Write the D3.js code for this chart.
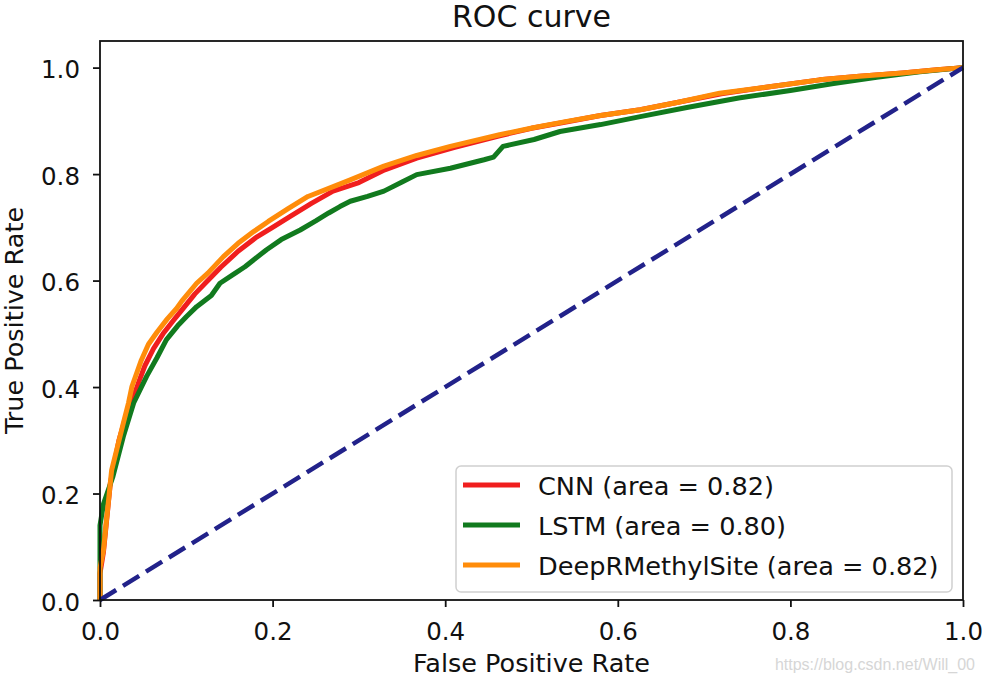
<!DOCTYPE html>
<html>
<head>
<meta charset="utf-8">
<script src="https://cdnjs.cloudflare.com/ajax/libs/d3/7.8.5/d3.min.js"></script>
<style>
  body { margin: 0; background: #fff; }
  text { font-family: "DejaVu Sans", sans-serif; fill: #111; }
</style>
</head>
<body>
<script>
var width = 982;
var height = 679;

// data
var cnnFpr = [0, 0, 0.004, 0.012, 0.022, 0.03, 0.038, 0.045, 0.052, 0.062, 0.073, 0.085, 0.095, 0.11, 0.125, 0.14, 0.16, 0.18, 0.2, 0.22, 0.245, 0.27, 0.3, 0.33, 0.367, 0.41, 0.463, 0.5, 0.54, 0.58, 0.626, 0.67, 0.72, 0.78, 0.834, 0.88, 0.93, 0.97, 1.0];
var cnnTpr = [0, 0.05, 0.09, 0.22, 0.3, 0.345, 0.378, 0.41, 0.44, 0.472, 0.5, 0.525, 0.545, 0.575, 0.6, 0.625, 0.655, 0.68, 0.7, 0.72, 0.745, 0.768, 0.784, 0.808, 0.83, 0.85, 0.872, 0.886, 0.898, 0.91, 0.921, 0.935, 0.951, 0.965, 0.977, 0.984, 0.99, 0.996, 1.0];

var lstmFpr = [0, 0, 0.004, 0.015, 0.027, 0.039, 0.054, 0.066, 0.077, 0.09, 0.1, 0.112, 0.129, 0.139, 0.155, 0.168, 0.193, 0.21, 0.232, 0.25, 0.265, 0.278, 0.29, 0.31, 0.329, 0.35, 0.367, 0.406, 0.445, 0.456, 0.467, 0.503, 0.533, 0.58, 0.626, 0.68, 0.74, 0.8, 0.85, 0.9, 0.95, 1.0];
var lstmTpr = [0, 0.14, 0.18, 0.232, 0.307, 0.37, 0.42, 0.455, 0.489, 0.515, 0.532, 0.551, 0.572, 0.595, 0.612, 0.626, 0.658, 0.677, 0.695, 0.712, 0.727, 0.739, 0.749, 0.758, 0.768, 0.785, 0.799, 0.811, 0.827, 0.832, 0.852, 0.865, 0.88, 0.893, 0.908, 0.925, 0.943, 0.957, 0.97, 0.982, 0.992, 1.0];

var deepFpr = [0, 0, 0.004, 0.0135, 0.027, 0.033, 0.037, 0.048, 0.056, 0.066, 0.078, 0.089, 0.095, 0.112, 0.125, 0.143, 0.16, 0.178, 0.195, 0.218, 0.241, 0.271, 0.29, 0.329, 0.367, 0.406, 0.463, 0.502, 0.541, 0.58, 0.626, 0.67, 0.718, 0.78, 0.834, 0.88, 0.93, 0.97, 1.0];
var deepTpr = [0, 0.06, 0.094, 0.244, 0.332, 0.37, 0.401, 0.451, 0.48, 0.503, 0.528, 0.548, 0.562, 0.595, 0.614, 0.645, 0.67, 0.692, 0.711, 0.735, 0.758, 0.777, 0.789, 0.815, 0.835, 0.852, 0.874, 0.887, 0.899, 0.91, 0.921, 0.935, 0.952, 0.965, 0.977, 0.984, 0.99, 0.996, 1.0];

var seriesNames = ["CNN (area = 0.82)", "LSTM (area = 0.80)", "DeepRMethylSite (area = 0.82)"];
var seriesColors = ["#f01e1e", "#117a1e", "#ff8c0a"];
var tickValues = [0, 0.2, 0.4, 0.6, 0.8, 1.0];

var margin = {left: 100, right: 19, top: 41, bottom: 79};

var series = [
    {fpr: cnnFpr, tpr: cnnTpr},
    {fpr: lstmFpr, tpr: lstmTpr},
    {fpr: deepFpr, tpr: deepTpr}
];

var x = d3.scaleLinear().domain([0, 1]).range([margin.left, width - margin.right]);
var y = d3.scaleLinear().domain([0, 1.05]).range([height - margin.bottom, margin.top]);

var svg = d3.select("body").append("svg").attr("width", width).attr("height", height);

var line = d3.line()
    .x(function (d) { return x(d[0]); })
    .y(function (d) { return y(d[1]); });

svg.selectAll("path.roc")
    .data(series)
    .enter()
    .append("path")
    .attr("class", "roc")
    .attr("d", function (d) { return line(d3.zip(d.fpr, d.tpr)); })
    .attr("fill", "none")
    .attr("stroke", function (d, i) { return seriesColors[i]; })
    .attr("stroke-width", 5)
    .attr("stroke-linejoin", "round");

// chance line
svg.append("path")
    .attr("d", line([[0, 0], [1, 1]]))
    .attr("stroke", "#22228a")
    .attr("stroke-width", 4.5)
    .attr("stroke-dasharray", "19,8")
    .attr("fill", "none");

// axes
var xAxis = svg.append("g")
    .attr("transform", "translate(0," + y(0) + ")")
    .call(d3.axisBottom(x).tickValues(tickValues).tickFormat(d3.format(".1f")).tickSize(7).tickSizeOuter(0));
var yAxis = svg.append("g")
    .attr("transform", "translate(" + x(0) + ",0)")
    .call(d3.axisLeft(y).tickValues(tickValues).tickFormat(d3.format(".1f")).tickSize(7).tickSizeOuter(0));

[xAxis, yAxis].forEach(function (g) {
    g.select(".domain").remove();
    g.selectAll("line").attr("stroke", "#111").attr("stroke-width", 1.8);
    g.selectAll("text").style("font-size", "24.5px").style("font-family", "DejaVu Sans").attr("fill", "#111");
});
xAxis.selectAll("text").attr("y", 0).attr("dy", 0).attr("transform", "translate(0,40)");
yAxis.selectAll("text").attr("x", -20).attr("dy", 0).attr("transform", "translate(0,10)");

svg.append("rect")
    .attr("x", x(0)).attr("y", y(1.05))
    .attr("width", x(1) - x(0)).attr("height", y(0) - y(1.05))
    .attr("fill", "none").attr("stroke", "#111").attr("stroke-width", 1.8);

// titles
svg.append("text")
    .attr("x", (x(0) + x(1)) / 2).attr("y", 27)
    .attr("text-anchor", "middle")
    .style("font-size", "30px")
    .text("ROC curve");
svg.append("text")
    .attr("x", (x(0) + x(1)) / 2).attr("y", 672)
    .attr("text-anchor", "middle")
    .style("font-size", "25.5px")
    .text("False Positive Rate");
svg.append("text")
    .attr("transform", "translate(23," + (y(0) + y(1.05)) / 2 + ") rotate(-90)")
    .attr("text-anchor", "middle")
    .style("font-size", "25.5px")
    .text("True Positive Rate");

// legend
var legend = svg.append("g").attr("transform", "translate(456,466)");
legend.append("rect")
    .attr("width", 496).attr("height", 126)
    .attr("rx", 5).attr("ry", 5)
    .attr("fill", "#fff").attr("fill-opacity", 0.8)
    .attr("stroke", "#d0d0d0").attr("stroke-width", 1.5);
var item = legend.selectAll("g.item")
    .data(seriesNames)
    .enter()
    .append("g")
    .attr("class", "item")
    .attr("transform", function (d, i) { return "translate(0," + (19 + i * 40) + ")"; });
item.append("line")
    .attr("x1", 7).attr("x2", 64)
    .attr("stroke", function (d, i) { return seriesColors[i]; })
    .attr("stroke-width", 5);
item.append("text")
    .attr("x", 82).attr("y", 10)
    .style("font-size", "25.6px")
    .text(function (d) { return d; });

// watermark
svg.append("text")
    .attr("x", 975).attr("y", 670)
    .attr("text-anchor", "end")
    .style("font-family", "Liberation Sans, Arial, sans-serif")
    .style("font-size", "16px")
    .style("fill", "#d6d6d6")
    .text("https://blog.csdn.net/Will_00");
</script>
</body>
</html>
